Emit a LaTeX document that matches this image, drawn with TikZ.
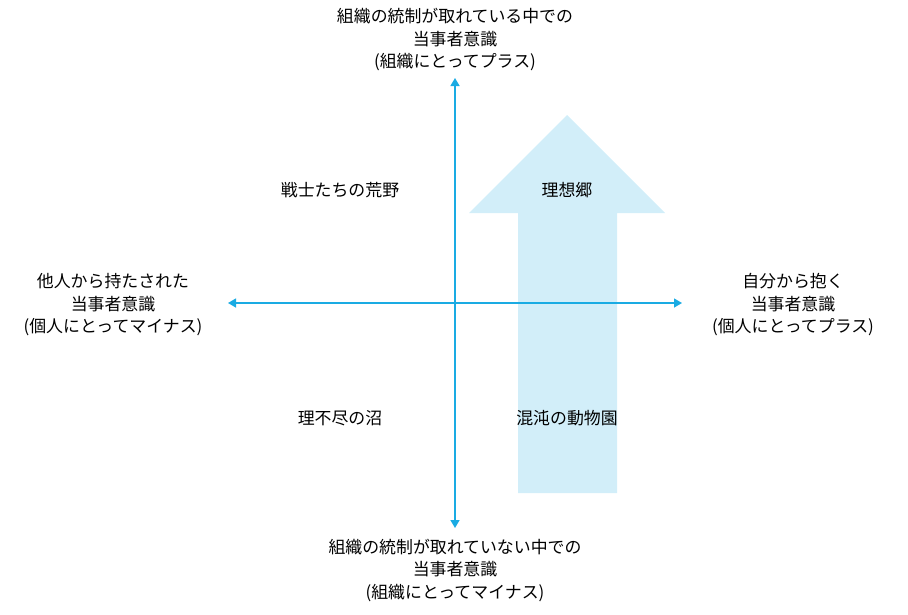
\documentclass[tikz,border=0pt]{standalone}
\usepackage{fontspec}
\newfontfamily\jpfont{Noto Sans CJK JP}
\usetikzlibrary{arrows.meta}
\definecolor{axisblue}{HTML}{1AABE3}
\definecolor{arrowfill}{HTML}{D2EEF9}

\begin{document}
\begin{tikzpicture}[
      x=1pt, y=-1pt,
      font=\jpfont\fontsize{16.9}{22.5}\selectfont,
      lbl/.style={align=center, inner sep=0pt, text=black},
      axis/.style={draw=axisblue, line width=1.4pt, -{Triangle[length=8pt, width=9pt]}}
    ]
    \useasboundingbox (0,0) rectangle (908,614);
    % big arrow
    \fill[arrowfill] (518,493) -- (518,213) -- (469,213) -- (567,115)
      -- (665,213) -- (617,213) -- (617,493) -- cycle;

    \coordinate (o) at (455,303);
    \coordinate (top) at (455,78);
    \coordinate (bot) at (455,528);
    \coordinate (lft) at (228,303);
    \coordinate (rgt) at (682,303);
    \draw[axis] (o) -- (top);
    \draw[axis] (o) -- (bot);
    \draw[axis] (o) -- (lft);
    \draw[axis] (o) -- (rgt);

    \node[lbl] (ctop) at (455,40) {組織の統制が取れている中での\\当事者意識\\(組織にとってプラス)};
    \node[lbl] (cbot) at (455,570) {組織の統制が取れていない中での\\当事者意識\\(組織にとってマイナス)};
    \node[lbl] (clft) at (113,305) {他人から持たされた\\当事者意識\\(個人にとってマイナス)};
    \node[lbl] (crgt) at (793,305) {自分から抱く\\当事者意識\\(個人にとってプラス)};

    \node[lbl] (q2) at (340,190) {戦士たちの荒野};
    \node[lbl] (q1) at (567,190) {理想郷};
    \node[lbl] (q3) at (340,418) {理不尽の沼};
    \node[lbl] (q4) at (567,418) {混沌の動物園};
  \end{tikzpicture}
\end{document}
